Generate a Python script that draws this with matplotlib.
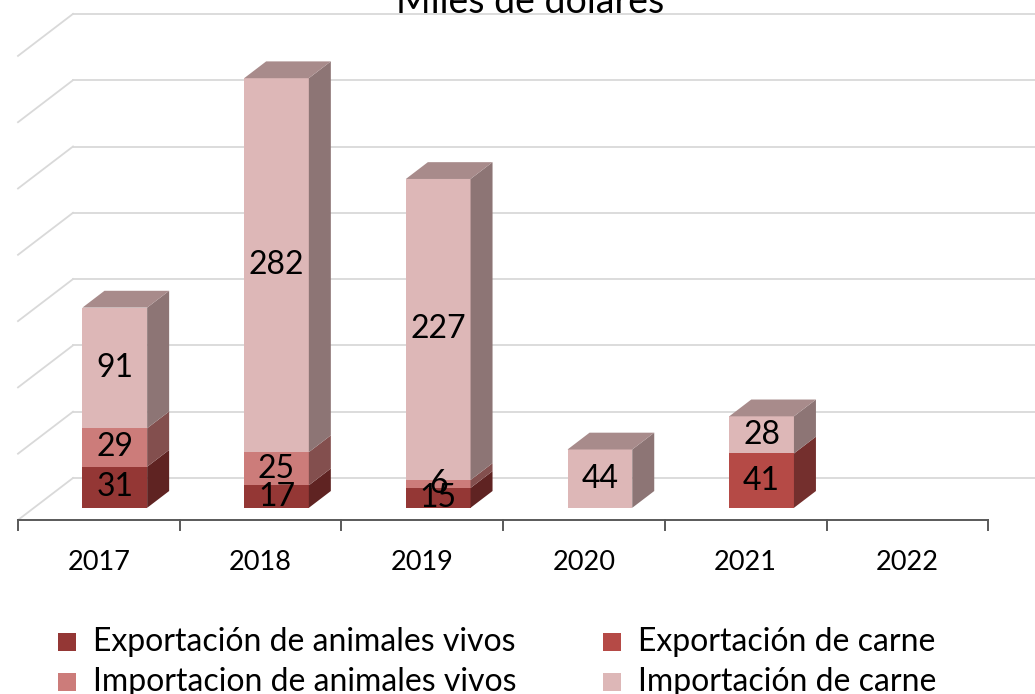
import matplotlib.pyplot as plt
from matplotlib.patches import Polygon, Rectangle

plt.rcParams['font.family'] = ['Lato', 'DejaVu Sans']

years = ['2017', '2018', '2019', '2020', '2021', '2022']
series = ['Exportación de animales vivos', 'Exportación de carne',
          'Importacion de animales vivos', 'Importación de carne']
exp_animales = [31, 17, 15, 0, 0, 0]
exp_carne = [0, 0, 0, 0, 41, 0]
imp_animales = [29, 25, 6, 0, 0, 0]
imp_carne = [91, 282, 227, 44, 28, 0]
values = [exp_animales, exp_carne, imp_animales, imp_carne]
colors = ['#943735', '#B54A46', '#CC7C7A', '#DDB7B7']
grid_vals = range(0, 351, 50)

W, H = 1035, 694
# pixel layout of the fake 3d frame
left_px, slot_px, base_px, unit_px = 18, 161.7, 520, 1.326
dxd = 55 / slot_px        # full depth, in category units
dyd = 42 / unit_px        # full depth, in value units
d0, dbar = 0.29, 0.40     # bar front depth and bar thickness (fraction of depth)
bw = 0.40


def shade(c, f):
    c = c.lstrip('#')
    rgb = [int(c[i:i + 2], 16) / 255 for i in (0, 2, 4)]
    return tuple(min(1, v * f) for v in rgb)


fig = plt.figure(figsize=(W / 100, H / 100), dpi=100)
ax = fig.add_axes([0, 0, 1, 1])
ax.set_xlim(-left_px / slot_px, (W - left_px) / slot_px)
ax.set_ylim((base_px - H) / unit_px, base_px / unit_px)
ax.axis('off')

# back wall gridlines and left wall diagonals
for v in grid_vals:
    ax.plot([0, dxd], [v, v + dyd], color='#D9D9D9', lw=1.3, zorder=1)
    ax.plot([dxd, 7], [v + dyd, v + dyd], color='#D9D9D9', lw=1.3, zorder=1)

# bars
for i in range(len(years)):
    x0 = i + 0.5 - bw / 2 + d0 * dxd
    bot = 0
    segs = [(k, values[k][i]) for k in range(4) if values[k][i] > 0]
    for j, (k, val) in enumerate(segs):
        y0 = bot + d0 * dyd
        y1 = y0 + val
        ox, oy = dbar * dxd, dbar * dyd
        ax.add_patch(Rectangle((x0, y0), bw, val, facecolor=colors[k],
                               edgecolor='none', zorder=3))
        ax.add_patch(Polygon([(x0 + bw, y0), (x0 + bw + ox, y0 + oy),
                              (x0 + bw + ox, y1 + oy), (x0 + bw, y1)],
                             facecolor=shade(colors[k], 0.64), edgecolor='none', zorder=3))
        if j == len(segs) - 1:
            ax.add_patch(Polygon([(x0, y1), (x0 + ox, y1 + oy),
                                  (x0 + bw + ox, y1 + oy), (x0 + bw, y1)],
                                 facecolor=shade(colors[k], 0.76), edgecolor='none', zorder=3))
        ax.text(x0 + bw / 2, y0 + val / 2, str(val), ha='center', va='center',
                fontsize=23, color='black', zorder=5)
        bot += val

# front floor edge with ticks
ax.plot([0, 6], [0, 0], color='#595959', lw=1.4, zorder=4)
for i in range(len(years) + 1):
    ax.plot([i, i], [0, -10 / unit_px], color='#595959', lw=1.4, zorder=4)
for i, yr in enumerate(years):
    ax.text(i + 0.5, -43 / unit_px, yr, ha='center', va='center', fontsize=19.5)

ax.text((6 + dxd) / 2, (base_px - 13) / unit_px, 'Miles de dólares',
        ha='center', va='baseline', fontsize=27)

# legend, two columns
leg_pos = [(58, 633), (603, 633), (58, 673), (603, 673)]
for k, (lx, ly) in enumerate(leg_pos):
    fig.add_artist(Rectangle((lx / W, 1 - (ly + 18) / H), 18 / W, 18 / H,
                             facecolor=colors[k], edgecolor='none',
                             transform=fig.transFigure))
    fig.text((lx + 35) / W, 1 - (ly + 9) / H, series[k], ha='left', va='center',
             fontsize=23)

fig.savefig('out.png', dpi=100)
